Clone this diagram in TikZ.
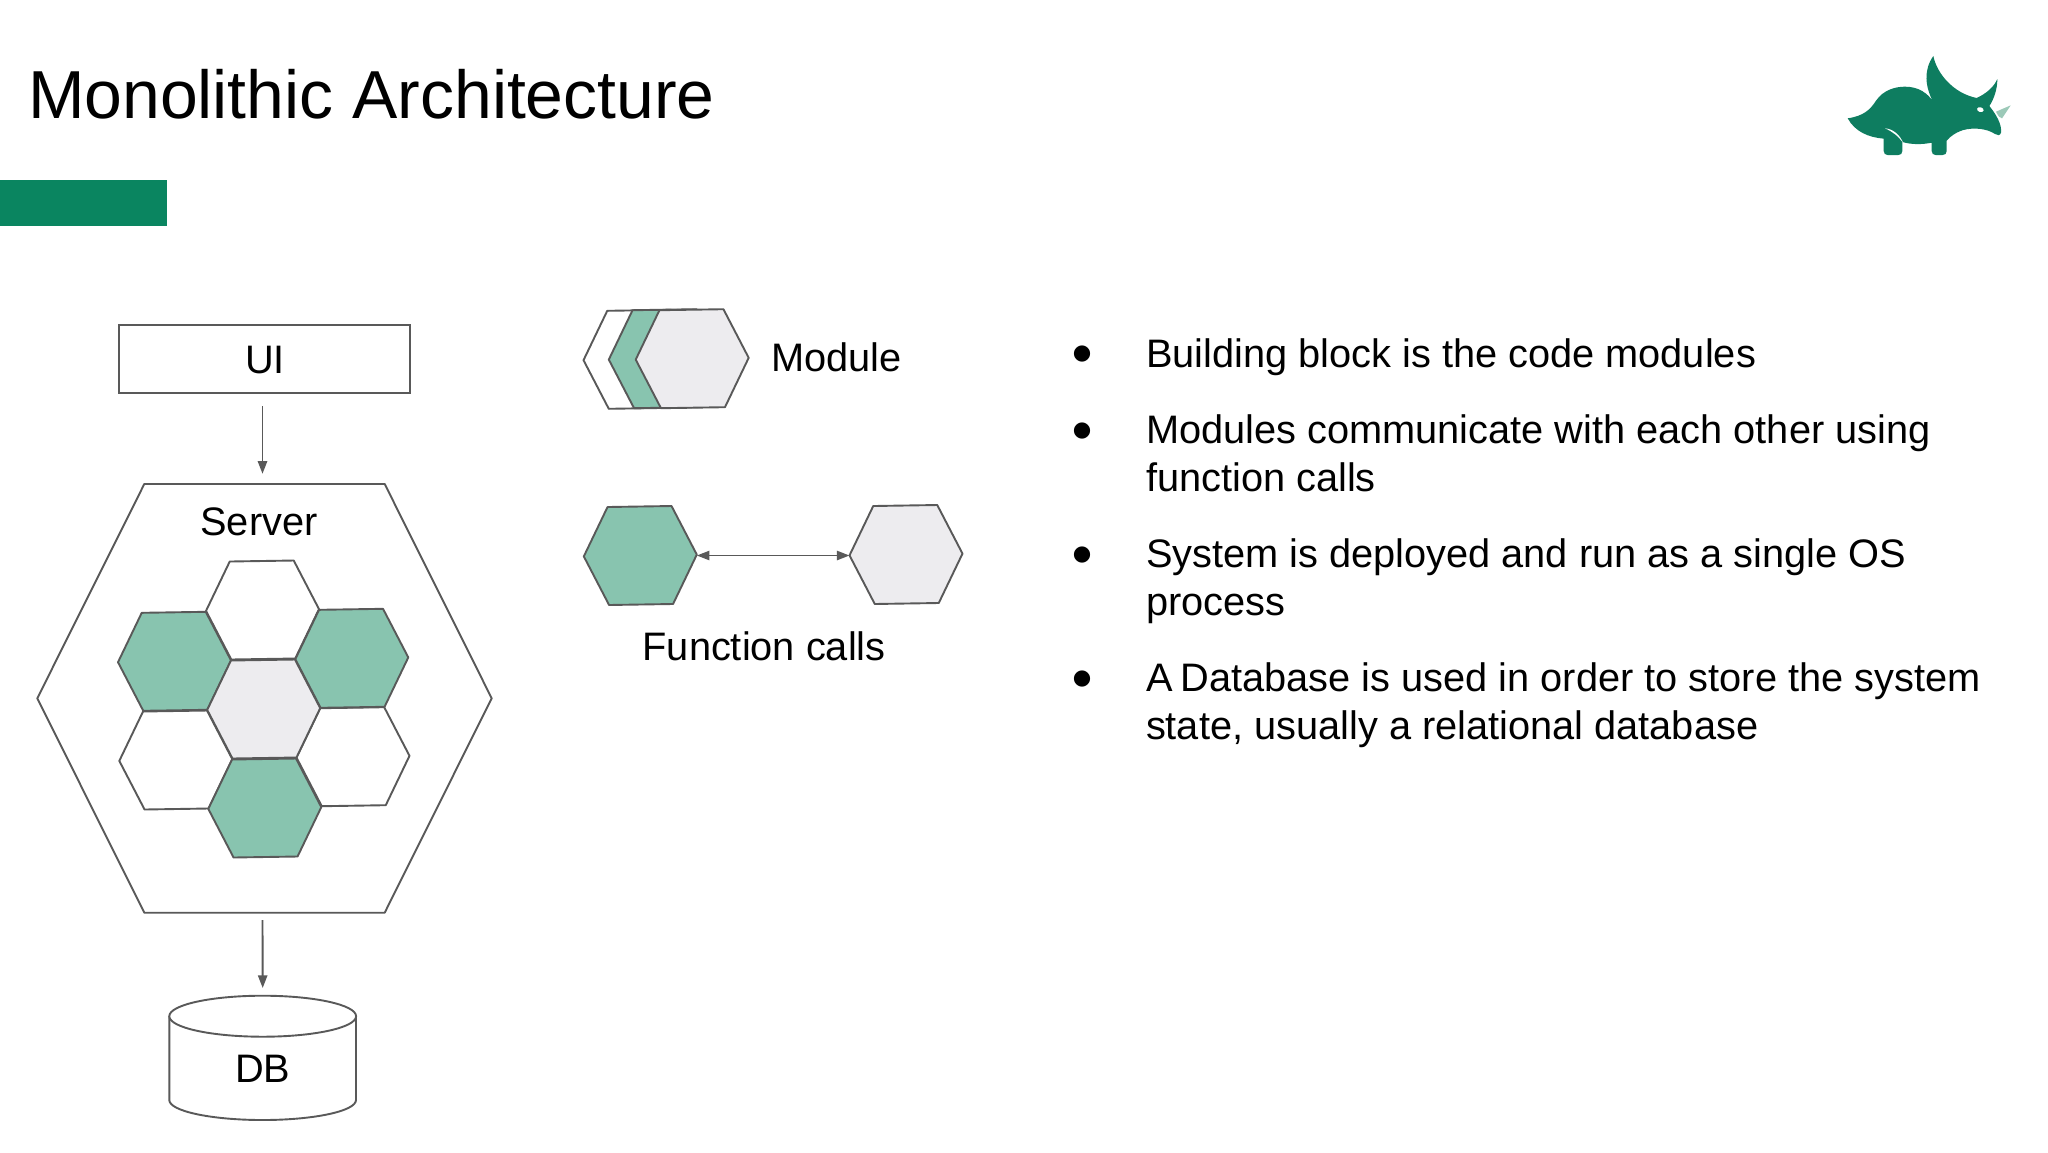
\documentclass[tikz,border=0pt]{standalone}
\usepackage{fontspec}
\setmainfont{Liberation Sans}
\newfontfamily\symfont{DejaVu Sans}
\usetikzlibrary{arrows.meta}
\definecolor{edge}{HTML}{595959}
\definecolor{mint}{HTML}{88C4AF}
\definecolor{pale}{HTML}{EDECEF}
\definecolor{barcol}{HTML}{0A8560}
\definecolor{dino}{HTML}{0E7D60}
\definecolor{hornc}{HTML}{9CC9B8}
\tikzset{
  hexline/.style={draw=edge,line width=.95pt,line join=round},
  whitehex/.style={hexline,fill=white},
  minthex/.style={hexline,fill=mint},
  palehex/.style={hexline,fill=pale},
  conn/.style={draw=edge,line width=.95pt,-{Triangle[length=6.3pt,width=4.6pt]}},
  conntwo/.style={draw=edge,line width=.95pt,{Triangle[length=6.3pt,width=4.6pt]}-{Triangle[length=6.3pt,width=4.6pt]}},
  anchorbox/.style={inner sep=0pt,outer sep=0pt,minimum width=#1*.5pt},
  label/.style={inner sep=0pt,outer sep=0pt,font=\fontsize{19.88}{24.1}\selectfont,text=black},
  bullet/.style={label,anchor=base west},
  dot/.style={inner sep=0pt,outer sep=0pt,font=\symfont\fontsize{10.6}{12}\selectfont,text=black,anchor=base},
}
% name, centre x, centre y, style
\newcommand{\hexcell}[4]{%
  \begin{scope}[shift={(#2,#3)},rotate=0.9]
    \draw[#4] (-32,-49) -- (32,-49) -- (56.5,0) -- (32,49) -- (-32,49) -- (-56.5,0) -- cycle;
  \end{scope}
  \node[anchorbox=113,minimum height=49pt] (#1) at (#2,#3) {};
}
\begin{document}
\begin{tikzpicture}[x=.5pt,y=-.5pt]
\useasboundingbox[fill=white] (0,0) rectangle (2048,1152);
% header
\node[inner sep=0pt,outer sep=0pt,anchor=base west,font=\fontsize{33.95}{40}\selectfont] (title) at (28,118.5) {Monolithic Architecture};
\fill[barcol] (0,180) rectangle (167,226);
% logo
\begin{scope}[xshift=900pt,yshift=-15pt,x=.16667pt,y=-.16667pt]
  \fill[hornc] (588,245) -- (632,226) -- (606,265) .. controls (600,265) and (594,258) .. (588,245) -- cycle;
  \fill[dino] (143,265) .. controls (190,258) and (210,240) .. (228,212)
    .. controls (250,180) and (285,170) .. (315,170)
    .. controls (355,170) and (385,190) .. (400,217)
    .. controls (375,170) and (370,120) .. (400,78)
    .. controls (410,130) and (460,190) .. (530,204)
    .. controls (560,190) and (582,170) .. (592,147)
    .. controls (592,180) and (580,210) .. (568,228)
    .. controls (590,255) and (606,285) .. (603,308)
    .. controls (600,318) and (592,316) .. (585,312)
    .. controls (560,295) and (520,292) .. (490,300)
    .. controls (465,308) and (450,320) .. (440,332)
    -- (440,363) .. controls (440,371) and (435,375) .. (428,375)
    -- (407,375) .. controls (400,375) and (395,371) .. (395,363)
    -- (395,338) .. controls (365,344) and (335,344) .. (307,336)
    -- (307,363) .. controls (307,371) and (302,375) .. (295,375)
    -- (263,375) .. controls (256,375) and (251,371) .. (251,363)
    -- (251,326) .. controls (205,322) and (165,305) .. (143,265) -- cycle;
  \fill[white] (255,295) .. controls (280,297) and (300,315) .. (310,340) .. controls (295,318) and (278,305) .. (255,295) -- cycle;
  \fill[white,rotate around={-15:(541,239)}] (541,239) ellipse [x radius=10,y radius=7];
\end{scope}
% left column
\node[draw=edge,line width=.95pt,inner sep=0pt,outer sep=0pt,minimum width=145.5pt,minimum height=34pt] (ui) at (264.5,359) {};
\node[label,anchor=base] (uilabel) at (265,373.5) {UI};
\draw[whitehex] (144.3,484) -- (384.7,484) -- (491.7,698.3) -- (384.7,912.7) -- (144.3,912.7) -- (37.3,698.3) -- cycle;
\node[anchorbox=454,minimum height=214.5pt] (server) at (264.5,698.3) {};
\node[label,anchor=base] (serverlabel) at (259,535) {Server};
\hexcell{htop}{262.5}{610}{whitehex}
\hexcell{hbl}{175.8}{760}{whitehex}
\hexcell{hbr}{353}{756.7}{whitehex}
\hexcell{hleft}{174.5}{661.3}{minthex}
\hexcell{hright}{351.8}{658.3}{minthex}
\hexcell{hbottom}{264.8}{808}{minthex}
\hexcell{hmid}{263.7}{709}{palehex}
\draw[whitehex] (169.3,1016) -- (169.3,1100) arc[start angle=180,end angle=0,x radius=93.35,y radius=20] -- (356,1016);
\draw[whitehex] (262.7,1016.2) ellipse [x radius=93.4,y radius=20.5];
\node[anchorbox=187,minimum height=62pt] (db) at (262.7,1058) {};
\node[label,anchor=base] (dblabel) at (262.7,1082.5) {DB};
\draw[conn] ([xshift=-1pt,yshift=-6.5pt]ui.south) -- ([xshift=-1pt,yshift=5pt]server.north);
\draw[conn] ([xshift=-1pt,yshift=-3.7pt]server.south) -- ([yshift=4pt]db.north);
% legend
\hexcell{mback}{640}{359.3}{whitehex}
\hexcell{mmid}{665.3}{358.7}{minthex}
\hexcell{mfront}{692.2}{358.7}{palehex}
\node[label,anchor=base west] (modulelabel) at (771,371.5) {Module};
\hexcell{fa}{640.3}{555.5}{minthex}
\hexcell{fb}{906}{554.5}{palehex}
\draw[conntwo] (fa.east) -- (fa.east -| fb.west);
\node[label,anchor=base west] (fnlabel) at (642.6,660.5) {Function calls};
% bullets
\node[dot] (d1) at (1082,359.5) {●};
\node[bullet] (b1) at (1146,367) {Building block is the code modules};
\node[dot] (d2) at (1082,436) {●};
\node[bullet] (b2) at (1146,443) {\parbox[t]{440pt}{\raggedright Modules communicate with each other using\\function calls}};
\node[dot] (d3) at (1082,560) {●};
\node[bullet] (b3) at (1146,567.5) {\parbox[t]{440pt}{\raggedright System is deployed and run as a single OS\\process}};
\node[dot] (d4) at (1082,684.5) {●};
\node[bullet] (b4) at (1146,691.5) {\parbox[t]{440pt}{\raggedright A\kern-1.5pt{} Database is used in order to store the system\\state, usually a relational database}};
\end{tikzpicture}
\end{document}
